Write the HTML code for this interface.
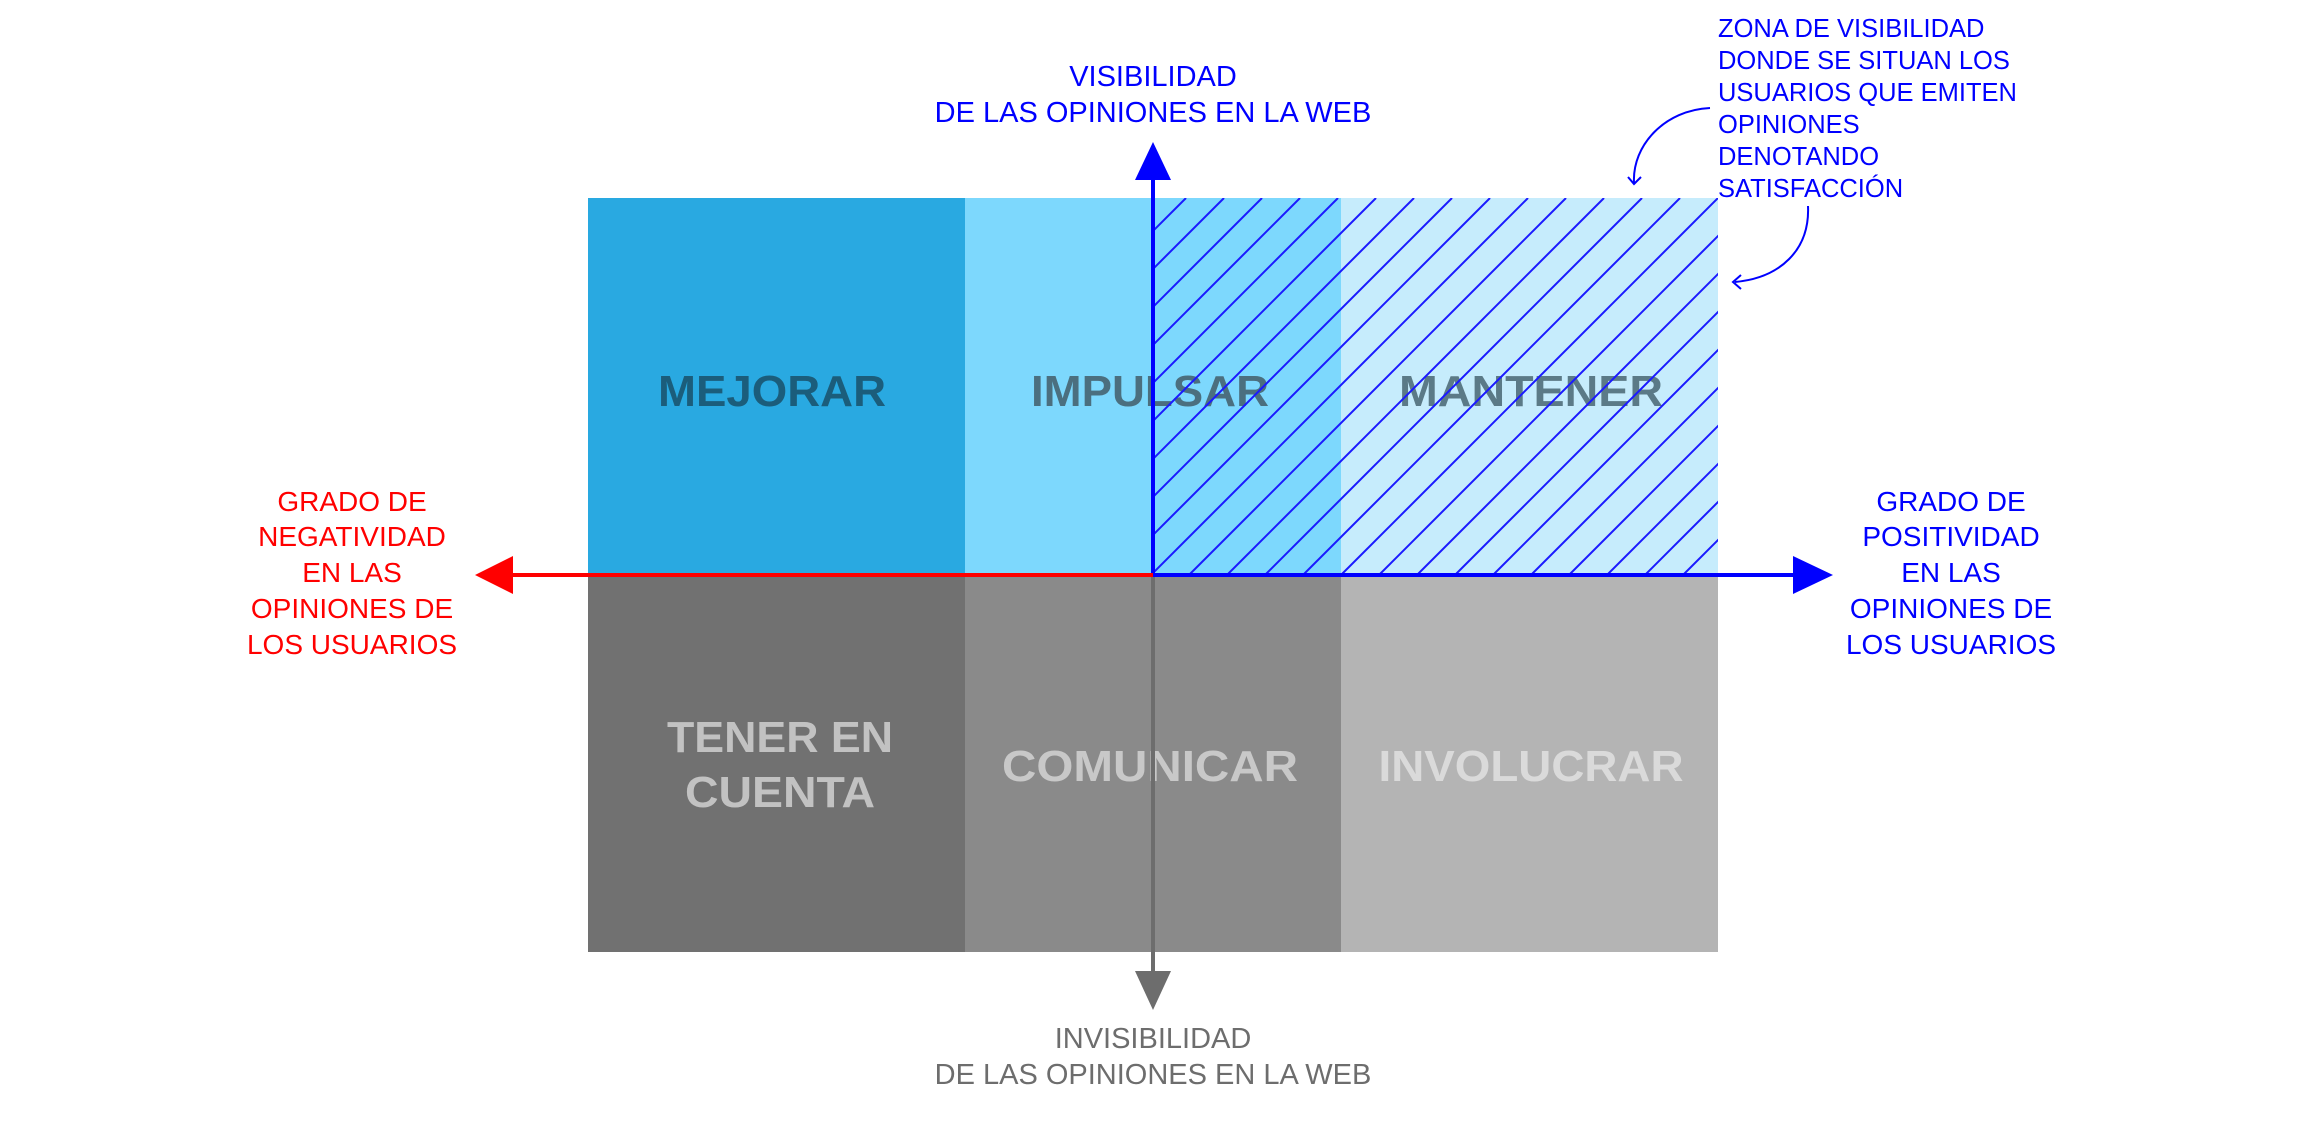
<!DOCTYPE html>
<html><head><meta charset="utf-8"><style>
html,body{margin:0;padding:0;background:#fff;}
svg{display:block;}
text{font-family:"Liberation Sans",sans-serif;}
</style></head><body>
<svg width="2300" height="1130" viewBox="0 0 2300 1130" xmlns="http://www.w3.org/2000/svg">
<defs>
<clipPath id="hc"><rect x="1153" y="198" width="565" height="376"/></clipPath>
</defs>
<rect x="588" y="198" width="377" height="376" fill="#29a9e1"/>
<rect x="965" y="198" width="376" height="376" fill="#7dd8fd"/>
<rect x="1341" y="198" width="377" height="376" fill="#c6ecfc"/>
<rect x="588" y="574" width="377" height="378" fill="#717171"/>
<rect x="965" y="574" width="376" height="378" fill="#8a8a8a"/>
<rect x="1341" y="574" width="377" height="378" fill="#b4b4b4"/>
<g font-weight="bold" font-size="44" text-anchor="middle">
<text x="772" y="406" fill="#1b5d7b" textLength="228" lengthAdjust="spacingAndGlyphs">MEJORAR</text>
<text x="1150" y="406" fill="#4b6f7f" textLength="238" lengthAdjust="spacingAndGlyphs">IMPULSAR</text>
<text x="1531" y="406" fill="#5b7a87" textLength="264" lengthAdjust="spacingAndGlyphs">MANTENER</text>
<text x="780" y="752" fill="#c2c2c2" textLength="226" lengthAdjust="spacingAndGlyphs">TENER EN</text>
<text x="780" y="807" fill="#c2c2c2" textLength="190" lengthAdjust="spacingAndGlyphs">CUENTA</text>
<text x="1150" y="781" fill="#c8c8c8" textLength="296" lengthAdjust="spacingAndGlyphs">COMUNICAR</text>
<text x="1531" y="781" fill="#dadada" textLength="305" lengthAdjust="spacingAndGlyphs">INVOLUCRAR</text>
</g>
<g clip-path="url(#hc)" stroke="#1a1aff" stroke-width="2">
<line x1="772" y1="574" x2="1148" y2="198"/>
<line x1="810" y1="574" x2="1186" y2="198"/>
<line x1="848" y1="574" x2="1224" y2="198"/>
<line x1="886" y1="574" x2="1262" y2="198"/>
<line x1="924" y1="574" x2="1300" y2="198"/>
<line x1="962" y1="574" x2="1338" y2="198"/>
<line x1="1000" y1="574" x2="1376" y2="198"/>
<line x1="1038" y1="574" x2="1414" y2="198"/>
<line x1="1076" y1="574" x2="1452" y2="198"/>
<line x1="1114" y1="574" x2="1490" y2="198"/>
<line x1="1152" y1="574" x2="1528" y2="198"/>
<line x1="1190" y1="574" x2="1566" y2="198"/>
<line x1="1228" y1="574" x2="1604" y2="198"/>
<line x1="1266" y1="574" x2="1642" y2="198"/>
<line x1="1304" y1="574" x2="1680" y2="198"/>
<line x1="1342" y1="574" x2="1718" y2="198"/>
<line x1="1380" y1="574" x2="1756" y2="198"/>
<line x1="1418" y1="574" x2="1794" y2="198"/>
<line x1="1456" y1="574" x2="1832" y2="198"/>
<line x1="1494" y1="574" x2="1870" y2="198"/>
<line x1="1532" y1="574" x2="1908" y2="198"/>
<line x1="1570" y1="574" x2="1946" y2="198"/>
<line x1="1608" y1="574" x2="1984" y2="198"/>
<line x1="1646" y1="574" x2="2022" y2="198"/>
<line x1="1684" y1="574" x2="2060" y2="198"/>
</g>
<line x1="1153" y1="574" x2="1153" y2="975" stroke="#6d6d6d" stroke-width="4"/>
<polygon points="1135,971 1171,971 1153,1010" fill="#6d6d6d"/>
<line x1="1153" y1="574" x2="1153" y2="175" stroke="#0000ff" stroke-width="4"/>
<polygon points="1135,180 1171,180 1153,142" fill="#0000ff"/>
<line x1="510" y1="575" x2="1153" y2="575" stroke="#ff0000" stroke-width="4"/>
<polygon points="513,556 513,594 475,575" fill="#ff0000"/>
<line x1="1153" y1="575" x2="1796" y2="575" stroke="#0000ff" stroke-width="4"/>
<polygon points="1793,556 1793,594 1833,575" fill="#0000ff"/>
<g font-size="29" text-anchor="middle">
<text x="1153" y="86" fill="#0000ff">VISIBILIDAD</text>
<text x="1153" y="122" fill="#0000ff">DE LAS OPINIONES EN LA WEB</text>
<text x="1153" y="1048" fill="#6d6d6d">INVISIBILIDAD</text>
<text x="1153" y="1084" fill="#6d6d6d">DE LAS OPINIONES EN LA WEB</text>
</g>
<g font-size="28" text-anchor="middle" fill="#ff0000">
<text x="352" y="511">GRADO DE</text>
<text x="352" y="546">NEGATIVIDAD</text>
<text x="352" y="582">EN LAS</text>
<text x="352" y="618">OPINIONES DE</text>
<text x="352" y="654">LOS USUARIOS</text>
</g>
<g font-size="28" text-anchor="middle" fill="#0000ff">
<text x="1951" y="511">GRADO DE</text>
<text x="1951" y="546">POSITIVIDAD</text>
<text x="1951" y="582">EN LAS</text>
<text x="1951" y="618">OPINIONES DE</text>
<text x="1951" y="654">LOS USUARIOS</text>
</g>
<g font-size="25.5" fill="#0000ff">
<text x="1718" y="37">ZONA DE VISIBILIDAD</text>
<text x="1718" y="69">DONDE SE SITUAN LOS</text>
<text x="1718" y="101">USUARIOS QUE EMITEN</text>
<text x="1718" y="133">OPINIONES</text>
<text x="1718" y="165">DENOTANDO</text>
<text x="1718" y="197">SATISFACCIÓN</text>
</g>
<g fill="none" stroke="#0000ff" stroke-width="2">
<path d="M1710,108 C1665,110 1632,145 1634,183"/>
<path d="M1628,177 L1634,184 L1641,177"/>
<path d="M1808,206 C1810,250 1780,278 1735,282"/>
<path d="M1741,275 L1733,282 L1741,289"/>
</g>
</svg>
</body></html>
